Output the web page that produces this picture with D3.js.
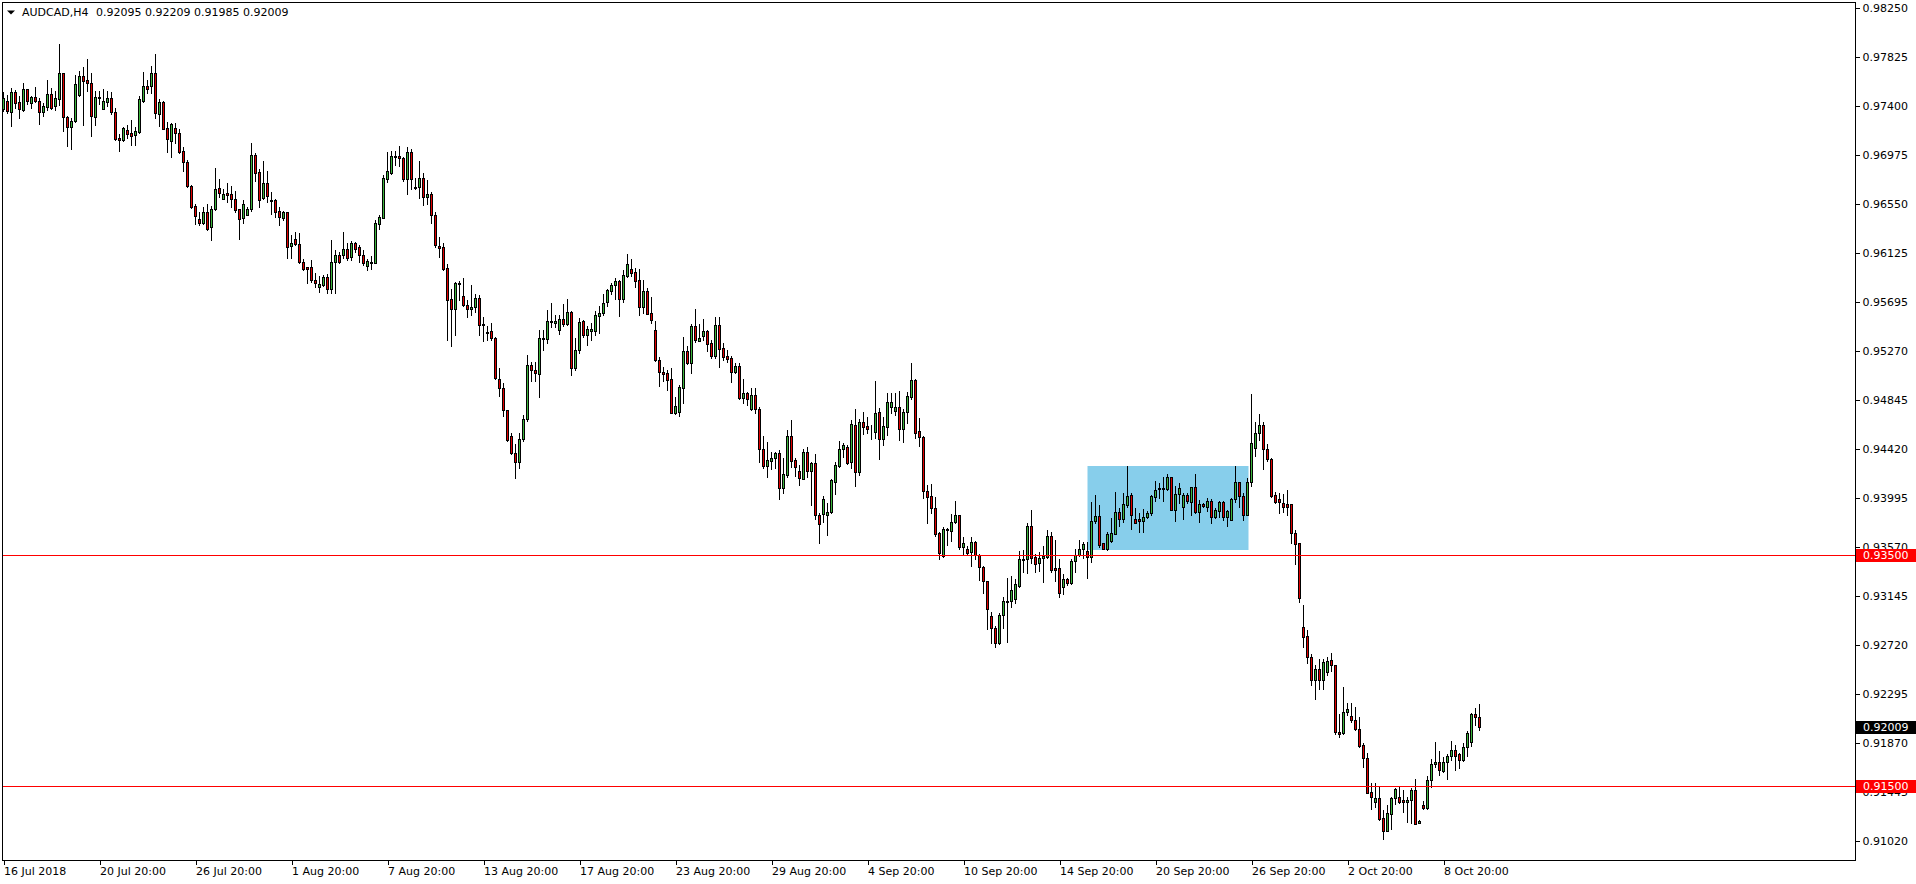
<!DOCTYPE html>
<html><head><meta charset="utf-8">
<script src="https://cdn.jsdelivr.net/npm/d3@7/dist/d3.min.js"></script>
<style>
html,body{margin:0;padding:0;background:#fff;}
svg text{font-family:"DejaVu Sans",Verdana,sans-serif;font-size:11px;fill:#000;}
</style></head>
<body>
<svg id="chart" width="1916" height="884"></svg>
<script>
const symbol = "AUDCAD,H4";
const opens = [.97373,.97443,.97350,.97521,.97434,.97365,.97544,.97423,.97475,.97443,.97344,.97391,.97501,.97397,.97457,.97683,.97301,.97220,.97269,.97495,.97660,.97622,.97596,.97307,.97472,.97376,.97437,.97469,.97344,.97125,.97101,.97194,.97168,.97151,.97174,.97446,.97573,.97570,.97686,.97333,.97434,.97206,.97099,.97206,.97165,.97009,.96913,.96705,.96534,.96419,.96387,.96479,.96346,.96503,.96688,.96595,.96644,.96636,.96589,.96503,.96424,.96456,.96508,.96971,.96827,.96598,.96728,.96584,.96584,.96485,.96427,.96479,.96181,.96245,.96199,.96043,.95999,.96002,.95889,.95829,.95849,.95915,.95808,.96043,.96103,.96109,.96158,.96092,.96207,.96173,.96106,.96014,.96040,.96040,.96378,.96430,.96769,.96821,.96965,.96965,.96948,.96769,.97000,.96693,.96693,.96774,.96612,.96636,.96450,.96184,.96173,.95993,.95724,.95635,.95857,.95750,.95672,.95635,.95652,.95733,.95507,.95438,.95444,.95386,.95030,.94952,.94758,.94535,.94385,.94307,.94506,.94680,.95149,.95108,.95070,.95374,.95374,.95522,.95513,.95452,.95548,.95504,.95611,.95125,.95282,.95533,.95415,.95444,.95444,.95580,.95603,.95698,.95797,.95843,.95881,.95727,.95927,.95982,.95956,.95889,.95658,.95794,.95603,.95455,.95195,.95091,.95079,.95030,.94738,.94744,.94955,.95273,.95172,.95490,.95363,.95406,.95447,.95340,.95232,.95496,.95296,.95230,.95209,.95093,.95142,.94862,.94905,.94772,.94890,.94769,.94419,.94277,.94321,.94347,.94384,.94080,.94196,.94532,.94326,.94231,.94161,.94393,.94228,.94297,.93846,.93855,.93852,.93872,.94138,.94277,.94419,.94439,.94312,.94630,.94225,.94656,.94619,.94569,.94566,.94743,.94511,.94616,.94789,.94754,.94783,.94592,.94740,.94876,.95021,.94578,.94523,.94057,.94014,.93907,.93690,.93496,.93719,.93713,.93785,.93846,.93568,.93551,.93531,.93612,.93499,.93398,.93273,.92972,.92865,.92741,.92978,.93097,.93105,.93117,.93236,.93458,.93464,.93754,.93482,.93435,.93473,.93487,.93667,.93386,.93386,.93227,.93291,.93256,.93450,.93505,.93551,.93534,.93488,.93794,.93841,.93603,.93557,.93621,.93687,.93875,.93812,.93939,.94020,.93812,.93812,.93794,.93829,.93864,.94008,.94072,.94081,.94078,.94176,.93896,.94029,.93916,.94023,.93965,.94092,.93875,.93942,.93922,.93971,.93829,.93887,.93959,.93835,.93809,.93985,.94133,.94014,.93852,.94133,.94428,.94558,.94630,.94419,.94332,.94020,.93985,.93953,.93942,.93945,.93693,.93603,.92874,.92799,.92613,.92414,.92509,.92414,.92486,.92587,.92544,.91965,.91954,.92136,.92101,.92067,.91994,.91850,.91737,.91442,.91355,.91390,.91216,.91109,.91251,.91390,.91398,.91375,.91361,.91372,.91459,.91178,.91332,.91303,.91546,.91691,.91702,.91630,.91702,.91754,.91809,.91774,.91719,.91832,.91881,.92122,.92095];
const highs = [.97524,.97492,.97553,.97538,.97486,.97602,.97550,.97489,.97561,.97466,.97423,.97622,.97559,.97530,.97937,.97689,.97315,.97292,.97668,.97703,.97741,.97804,.97689,.97527,.97532,.97544,.97532,.97521,.97379,.97159,.97220,.97237,.97278,.97217,.97486,.97694,.97625,.97747,.97851,.97457,.97446,.97263,.97255,.97249,.97197,.97046,.96928,.96714,.96546,.96482,.96526,.96546,.96534,.96861,.96766,.96679,.96731,.96708,.96659,.96505,.96584,.96526,.97075,.96989,.96850,.96922,.96835,.96650,.96592,.96526,.96485,.96482,.96277,.96306,.96294,.96069,.96002,.96063,.95950,.95924,.95933,.95941,.96236,.96153,.96132,.96309,.96207,.96228,.96222,.96193,.96150,.96069,.96097,.96410,.96453,.96800,.97000,.97006,.97006,.97052,.96960,.97046,.97029,.96772,.96922,.96815,.96757,.96653,.96479,.96260,.96207,.96028,.95814,.95869,.95883,.95907,.95716,.95846,.95768,.95756,.95571,.95490,.95519,.95392,.95125,.94992,.94762,.94561,.94466,.94564,.94718,.95238,.95180,.95178,.95455,.95455,.95629,.95690,.95585,.95583,.95684,.95721,.95617,.95386,.95562,.95542,.95490,.95519,.95620,.95664,.95768,.95808,.95860,.95909,.95889,.95979,.96115,.96069,.95996,.95982,.95889,.95820,.95742,.95533,.95224,.95131,.95108,.95125,.94877,.94978,.95395,.95316,.95504,.95638,.95507,.95551,.95455,.95368,.95568,.95568,.95340,.95280,.95229,.95165,.95165,.95026,.94919,.94948,.94948,.94783,.94535,.94483,.94399,.94399,.94413,.94341,.94587,.94673,.94341,.94283,.94419,.94442,.94312,.94378,.93863,.94017,.93950,.94161,.94309,.94494,.94471,.94454,.94673,.94766,.94679,.94743,.94702,.94627,.95012,.94775,.94697,.94911,.94905,.94905,.94922,.94772,.94919,.95165,.95026,.94694,.94535,.94109,.94115,.94008,.93701,.93748,.93739,.93858,.93970,.93852,.93655,.93580,.93655,.93620,.93510,.93406,.93279,.93010,.92886,.92996,.93140,.93299,.93320,.93291,.93537,.93545,.93777,.93892,.93510,.93531,.93580,.93719,.93704,.93632,.93467,.93337,.93302,.93464,.93551,.93632,.93615,.93618,.93962,.94020,.93933,.93609,.93705,.93823,.94049,.93907,.94037,.94275,.94037,.93910,.93864,.93899,.93887,.94023,.94144,.94130,.94176,.94205,.94182,.94101,.94130,.94037,.94037,.94095,.94202,.93980,.93956,.93994,.93985,.93907,.93974,.93974,.93893,.93994,.94275,.94139,.94037,.94173,.94899,.94659,.94726,.94659,.94466,.94347,.94049,.94037,.94032,.94066,.93948,.93719,.93609,.93068,.92851,.92642,.92547,.92596,.92596,.92619,.92648,.92547,.92122,.92353,.92214,.92214,.92179,.92093,.91867,.91786,.91526,.91520,.91491,.91288,.91335,.91404,.91482,.91491,.91462,.91404,.91476,.91557,.91202,.91367,.91584,.91728,.91876,.91800,.91751,.91777,.91890,.91850,.91786,.91873,.91977,.92133,.92171,.92209];
const lows = [.97359,.97336,.97226,.97379,.97298,.97356,.97414,.97385,.97434,.97246,.97313,.97365,.97370,.97365,.97411,.97185,.97055,.97023,.97263,.97486,.97232,.97532,.97142,.97232,.97414,.97370,.97399,.97327,.97104,.97012,.97096,.97119,.97061,.97058,.97162,.97434,.97509,.97509,.97298,.97226,.97197,.97003,.96960,.97075,.96994,.96838,.96694,.96511,.96372,.96369,.96375,.96323,.96239,.96497,.96612,.96592,.96569,.96526,.96479,.96245,.96387,.96450,.96491,.96746,.96526,.96592,.96569,.96462,.96433,.96367,.96410,.96083,.96083,.96193,.96037,.95976,.95860,.95875,.95831,.95788,.95837,.95774,.95774,.95779,.96040,.96083,.96063,.96063,.96132,.96048,.96019,.95976,.95982,.96034,.96335,.96424,.96743,.96806,.96890,.96881,.96751,.96633,.96682,.96676,.96598,.96543,.96549,.96381,.96178,.96092,.95976,.95368,.95316,.95415,.95716,.95664,.95571,.95583,.95611,.95409,.95363,.95368,.95368,.95033,.94885,.94712,.94495,.94379,.94168,.94255,.94495,.94668,.95016,.95016,.94877,.95282,.95345,.95484,.95484,.95420,.95490,.95496,.95065,.95111,.95259,.95397,.95328,.95368,.95415,.95426,.95583,.95664,.95768,.95721,.95580,.95698,.95918,.95924,.95831,.95588,.95603,.95594,.95519,.95189,.94972,.95016,.94935,.94735,.94726,.94712,.94819,.95157,.95085,.95354,.95360,.95368,.95276,.95209,.95215,.95137,.95195,.95180,.95006,.95078,.94853,.94818,.94804,.94760,.94731,.94312,.94254,.94182,.94248,.94254,.93991,.94043,.94182,.94268,.94190,.94109,.94159,.94182,.93936,.93814,.93609,.93788,.93675,.93863,.94031,.94268,.94355,.94292,.94254,.94101,.94199,.94549,.94558,.94511,.94514,.94332,.94456,.94540,.94731,.94717,.94500,.94485,.94650,.94853,.94514,.94448,.93994,.93782,.93869,.93667,.93470,.93487,.93589,.93626,.93777,.93557,.93502,.93510,.93409,.93464,.93285,.93169,.92857,.92735,.92700,.92729,.92865,.92750,.93053,.93082,.93227,.93357,.93348,.93435,.93357,.93363,.93270,.93473,.93357,.93279,.93140,.93160,.93244,.93247,.93357,.93493,.93473,.93305,.93444,.93777,.93574,.93554,.93546,.93615,.93684,.93754,.93791,.93922,.93731,.93777,.93705,.93705,.93820,.93849,.93974,.93994,.93968,.94066,.93893,.93800,.93951,.93818,.93956,.93846,.93870,.93789,.93922,.93881,.93783,.93820,.93835,.93806,.93757,.93806,.93965,.93922,.93806,.93849,.94101,.94361,.94500,.94246,.94321,.94008,.93951,.93864,.93878,.93849,.93603,.93421,.93094,.92706,.92567,.92376,.92249,.92336,.92336,.92457,.92495,.91948,.91919,.91948,.92113,.92055,.91983,.91832,.91664,.91433,.91300,.91317,.91202,.91034,.91105,.91121,.91340,.91346,.91271,.91187,.91173,.91164,.91173,.91294,.91297,.91485,.91664,.91592,.91621,.91557,.91719,.91636,.91650,.91717,.91760,.91847,.92026,.91985];
const closes = [.97466,.97353,.97521,.97423,.97373,.97544,.97446,.97475,.97440,.97344,.97397,.97501,.97385,.97466,.97683,.97301,.97220,.97269,.97590,.97660,.97619,.97596,.97313,.97475,.97475,.97443,.97469,.97344,.97113,.97101,.97206,.97159,.97142,.97185,.97463,.97570,.97550,.97686,.97342,.97437,.97203,.97113,.97240,.97165,.97003,.96913,.96702,.96526,.96448,.96387,.96479,.96332,.96505,.96679,.96641,.96636,.96630,.96595,.96497,.96422,.96549,.96505,.96971,.96821,.96586,.96728,.96621,.96572,.96482,.96436,.96479,.96179,.96207,.96199,.96043,.95988,.95988,.95886,.95866,.95855,.95915,.95808,.96045,.96103,.96048,.96158,.96080,.96207,.96161,.96106,.96034,.96054,.96048,.96381,.96433,.96772,.96832,.96965,.96959,.96945,.96769,.97000,.96769,.96685,.96774,.96612,.96636,.96450,.96196,.96170,.95988,.95713,.95635,.95863,.95863,.95669,.95635,.95655,.95733,.95496,.95496,.95426,.95383,.95036,.94949,.94758,.94501,.94385,.94307,.94506,.94680,.95149,.95105,.95079,.95383,.95386,.95533,.95533,.95533,.95548,.95504,.95611,.95128,.95282,.95522,.95415,.95464,.95464,.95585,.95603,.95690,.95800,.95849,.95881,.95727,.95933,.96025,.95953,.95883,.95658,.95794,.95597,.95542,.95192,.95088,.95076,.95021,.94738,.94796,.94961,.95273,.95172,.95490,.95368,.95383,.95447,.95337,.95232,.95496,.95293,.95224,.95206,.95093,.95142,.94862,.94905,.94853,.94890,.94772,.94419,.94277,.94326,.94341,.94384,.94080,.94205,.94532,.94321,.94268,.94167,.94393,.94228,.94297,.93846,.93768,.93985,.93875,.94153,.94280,.94419,.94454,.94303,.94639,.94225,.94656,.94616,.94598,.94566,.94731,.94511,.94621,.94827,.94827,.94783,.94592,.94743,.94882,.95021,.94558,.94523,.94054,.94008,.93907,.93681,.93516,.93725,.93727,.93785,.93846,.93568,.93603,.93522,.93612,.93502,.93395,.93273,.93030,.92865,.92741,.92978,.93103,.93103,.93198,.93253,.93464,.93467,.93754,.93479,.93427,.93476,.93496,.93667,.93372,.93372,.93175,.93291,.93256,.93453,.93505,.93551,.93594,.93487,.93794,.93841,.93592,.93557,.93684,.93690,.93875,.93812,.93945,.94014,.93846,.93783,.93794,.93835,.93864,.94014,.94066,.94087,.94078,.94176,.93896,.94029,.94081,.94023,.93968,.94092,.93875,.93942,.93927,.93971,.93829,.93893,.93959,.93835,.93884,.93985,.94133,.94011,.93852,.94133,.94471,.94558,.94630,.94419,.94332,.94017,.93959,.93959,.93922,.93916,.93690,.93595,.93129,.92793,.92613,.92414,.92509,.92414,.92573,.92582,.92544,.91962,.91945,.92136,.92162,.92067,.91994,.91847,.91737,.91439,.91398,.91390,.91213,.91109,.91259,.91393,.91468,.91358,.91355,.91378,.91459,.91170,.91193,.91303,.91546,.91688,.91702,.91633,.91702,.91760,.91809,.91760,.91719,.91835,.91954,.92122,.92093,.92009];

const priceTicks = [0.98250,0.97825,0.97400,0.96975,0.96550,0.96125,0.95695,0.95270,0.94845,0.94420,0.93995,0.93570,0.93145,0.92720,0.92295,0.91870,0.91445,0.91020];
const timeTickBars = [0,24,48,72,96,120,144,168,192,216,240,264,288,312,336,360];
const timeLabels = ["16 Jul 2018","20 Jul 20:00","26 Jul 20:00","1 Aug 20:00","7 Aug 20:00","13 Aug 20:00","17 Aug 20:00","23 Aug 20:00","29 Aug 20:00","4 Sep 20:00","10 Sep 20:00","14 Sep 20:00","20 Sep 20:00","26 Sep 20:00","2 Oct 20:00","8 Oct 20:00"];
const levels = [0.93500, 0.91500];
const zoneBars = [271, 311];
const zonePrices = [0.94275, 0.93545];

const W = 1916, H = 884;
const plotL = 2, plotT = 2, plotR = 1855, plotB = 860;
const bullColor = "#3cb43c", bearColor = "#e00000";

const svg = d3.select("#chart");
svg.append("rect").attr("width", W).attr("height", H).attr("fill", "#fff");

const x = d3.scaleLinear().domain([0, 369]).range([3.5, 3.5 + 4 * 369]);
const y = d3.scaleLinear().domain([0.91020, 0.98250]).range([841, 8]);

const bars = opens.map((o, i) => ({i, o, h: highs[i], l: lows[i], c: closes[i]}));

// zone rectangle (background)
svg.append("rect")
  .attr("x", Math.round(x(zoneBars[0])) - 0.5)
  .attr("y", Math.round(y(zonePrices[0])))
  .attr("width", Math.round(x(zoneBars[1])) - Math.round(x(zoneBars[0])) + 1)
  .attr("height", Math.round(y(zonePrices[1])) - Math.round(y(zonePrices[0])))
  .attr("fill", "#87ceeb");

const g = svg.append("g").attr("shape-rendering", "crispEdges");
// wicks
g.selectAll("line.wick").data(bars).join("line")
  .attr("class", "wick")
  .attr("x1", d => x(d.i)).attr("x2", d => x(d.i))
  .attr("y1", d => Math.round(y(d.h)))
  .attr("y2", d => Math.round(y(d.l)) + 1)
  .attr("stroke", "#000").attr("stroke-width", 1);
// bodies
g.selectAll("rect.body").data(bars).join("rect")
  .attr("class", "body")
  .attr("x", d => x(d.i) - 1)
  .attr("width", 2)
  .attr("y", d => Math.round(y(Math.max(d.o, d.c))) + 0.5)
  .attr("height", d => Math.max(0, Math.round(y(Math.min(d.o, d.c))) - Math.round(y(Math.max(d.o, d.c)))))
  .attr("fill", d => d.c >= d.o ? bullColor : bearColor)
  .attr("stroke", "#000").attr("stroke-width", 1);

// horizontal levels
svg.append("g").attr("shape-rendering", "crispEdges")
  .selectAll("line").data(levels).join("line")
  .attr("x1", plotL).attr("x2", plotR)
  .attr("y1", d => Math.round(y(d)) + 0.5).attr("y2", d => Math.round(y(d)) + 0.5)
  .attr("stroke", "#ff0000").attr("stroke-width", 1);

// frame
const fr = svg.append("g").attr("shape-rendering", "crispEdges").attr("stroke", "#000").attr("fill", "none");
fr.append("rect").attr("x", plotL + 0.5).attr("y", plotT + 0.5)
  .attr("width", plotR - plotL).attr("height", plotB - plotT);

// right axis
const yAxis = d3.axisRight(y).tickValues(priceTicks).tickSize(4).tickPadding(3)
  .tickFormat(d3.format(".5f"));
const ya = svg.append("g").attr("transform", `translate(${plotR + 0.5},0)`).call(yAxis);
ya.select(".domain").remove();
ya.selectAll(".tick line").attr("shape-rendering", "crispEdges").attr("stroke", "#000");
ya.selectAll("text").attr("font-family", null).attr("font-size", null).attr("fill", "#000");

// bottom axis
const xAxis = d3.axisBottom(x).tickValues(timeTickBars).tickSize(4).tickPadding(3)
  .tickFormat((d, i) => timeLabels[i]);
const xa = svg.append("g").attr("transform", `translate(0,${plotB + 0.5})`).call(xAxis);
xa.select(".domain").remove();
xa.selectAll(".tick line").attr("shape-rendering", "crispEdges").attr("stroke", "#000");
xa.selectAll("text").attr("font-family", null).attr("font-size", null)
  .attr("text-anchor", "start").attr("x", 0).attr("fill", "#000");

// price tags
const tags = [
  {p: levels[0], bg: "#ff0000"},
  {p: levels[1], bg: "#ff0000"},
  {p: closes[closes.length - 1], bg: "#000000"}
];
const tg = svg.append("g");
tags.forEach(t => {
  const yy = Math.round(y(t.p));
  tg.append("rect").attr("x", plotR + 1).attr("y", yy - 6).attr("width", W - plotR - 1).attr("height", 13)
    .attr("fill", t.bg);
  tg.append("text").attr("x", plotR + 8).attr("y", yy + 0.5).attr("dy", "0.35em")
    .style("fill", "#fff").text(d3.format(".5f")(t.p));
});

// header
svg.append("path").attr("d", "M7,10.5 L15,10.5 L11,14.5 Z").attr("fill", "#000");
svg.append("text").attr("x", 22).attr("y", 16).text(symbol);
const last = bars[bars.length - 1];
svg.append("text").attr("x", 96).attr("y", 16)
  .text([last.o, last.h, last.l, last.c].map(d3.format(".5f")).join(" "));
</script>
</body></html>
